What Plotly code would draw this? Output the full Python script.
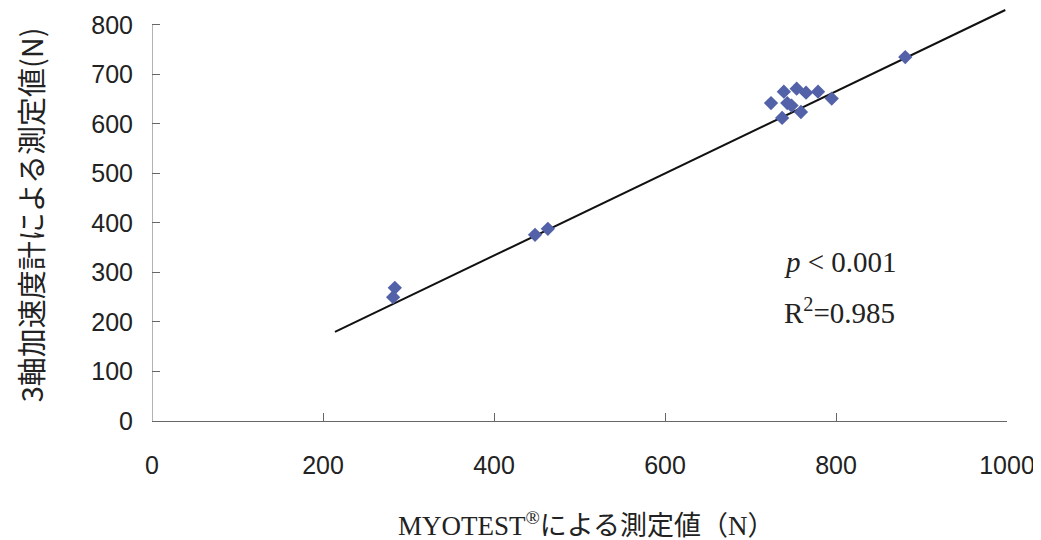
import plotly.graph_objects as go

# Data
myotest_x = [282, 284, 448, 463, 724, 737, 739, 743, 748, 754, 759, 765, 779, 795, 881]
accel_y = [250, 269, 376, 388, 642, 612, 665, 642, 637, 671, 624, 663, 665, 651, 735]

fit_x = [214, 998]
fit_y = [180, 830]

x_ticks = [0, 200, 400, 600, 800, 1000]
y_ticks = [0, 100, 200, 300, 400, 500, 600, 700, 800]

x_title = "MYOTEST<sup>®</sup>による測定値（N）"
y_title = "3軸加速度計による測定値(N)"
stat_p = "<i>p</i> < 0.001"
stat_r2 = "R<sup>2</sup>=0.985"

fig = go.Figure()
fig.add_trace(go.Scatter(
    x=fit_x, y=fit_y, mode="lines",
    line=dict(color="#111111", width=2),
    showlegend=False, hoverinfo="skip",
))
fig.add_trace(go.Scatter(
    x=myotest_x, y=accel_y, mode="markers",
    marker=dict(symbol="diamond", size=11, color="#5261a8",
                line=dict(width=0)),
    showlegend=False,
))

axis_color = "#666666"
tick_font = dict(family="Liberation Sans, Arial, sans-serif", size=25, color="#222222")

fig.update_xaxes(
    range=[0, 1000], tickvals=x_ticks, ticktext=[str(v) for v in x_ticks],
    showgrid=False, zeroline=False, showline=True, linecolor=axis_color, linewidth=1,
    ticks="inside", ticklen=8, tickcolor=axis_color, tickwidth=1,
    tickfont=tick_font, ticklabelstandoff=22,
)
fig.update_yaxes(
    range=[0, 834], tickvals=y_ticks, ticktext=[str(v) for v in y_ticks],
    showgrid=False, zeroline=False, showline=False,
    ticks="inside", ticklen=8, tickcolor=axis_color, tickwidth=1,
    tickfont=tick_font, ticklabelstandoff=18,
)

# y-axis line only up to 800
fig.add_shape(type="line", xref="x", yref="y", x0=0, x1=0, y0=0, y1=y_ticks[-1],
              line=dict(color=axis_color, width=1))

serif = "Liberation Serif, Times New Roman, Noto Sans CJK JP, serif"
fig.add_annotation(
    x=737, y=321, xref="x", yref="y", text=stat_p, showarrow=False,
    xanchor="left", yanchor="middle",
    font=dict(family=serif, size=29, color="#222222"),
)
fig.add_annotation(
    x=737, y=222, xref="x", yref="y", text=stat_r2, showarrow=False,
    xanchor="left", yanchor="middle",
    font=dict(family=serif, size=29, color="#222222"),
)
fig.add_annotation(
    x=0.508, y=-0.249, xref="paper", yref="paper", text=x_title, showarrow=False,
    xanchor="center", yanchor="middle",
    font=dict(family=serif, size=27, color="#222222"),
)
fig.add_annotation(
    x=-0.143, y=0.5, xref="paper", yref="paper", text=y_title, showarrow=False,
    textangle=-90, xanchor="center", yanchor="middle",
    font=dict(family="Noto Sans CJK JP, sans-serif", size=29, color="#222222"),
)

# The page body adds an 8px offset, so the figure is sized to fit the window.
fig.update_layout(
    width=1033, height=532,
    margin=dict(l=144, r=34, t=0, b=119),
    paper_bgcolor="white", plot_bgcolor="white",
)

fig.write_html("out.html")
